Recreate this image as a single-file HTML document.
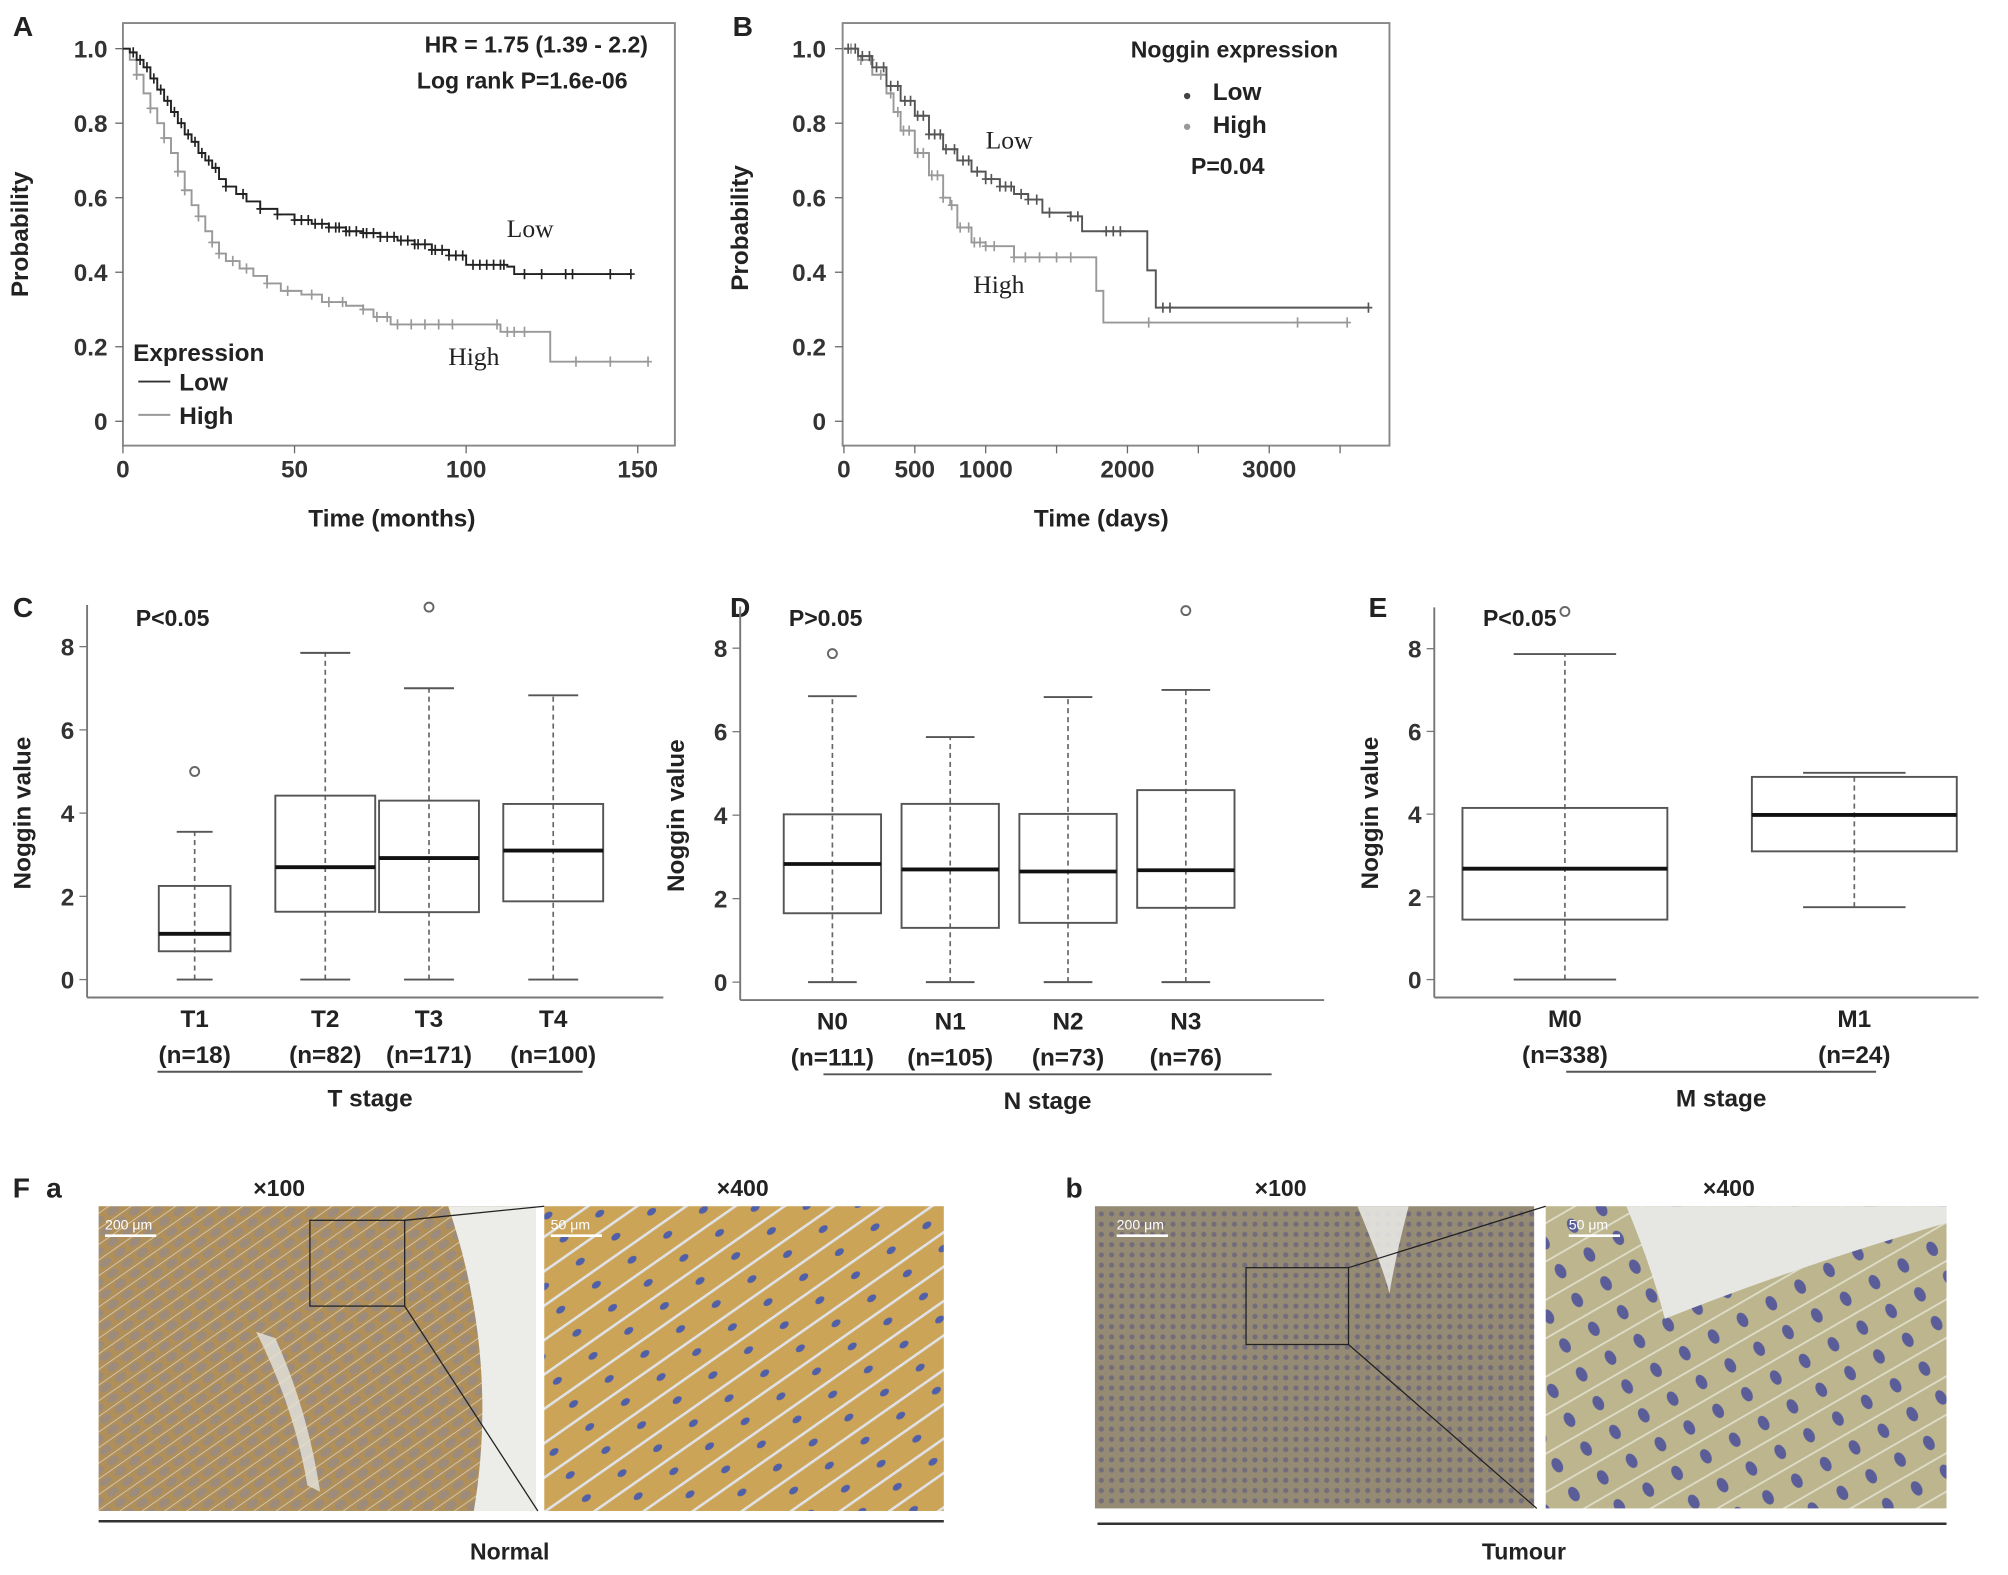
<!DOCTYPE html>
<html><head><meta charset="utf-8">
<style>
html,body{margin:0;padding:0;background:#fff;}
svg{display:block;font-family:"Liberation Sans",Arial,sans-serif;}
</style></head>
<body>
<svg id="fig" width="2008" height="1575" viewBox="0 0 1568 1230" preserveAspectRatio="none" xmlns="http://www.w3.org/2000/svg">
<defs>
<pattern id="patA" width="14" height="10" patternUnits="userSpaceOnUse" patternTransform="rotate(-35)">
<rect width="14" height="10" fill="#b08f58"/><ellipse cx="6" cy="5" rx="5" ry="3" fill="#8a8aa0" opacity="0.5"/><line x1="0" y1="0" x2="14" y2="0" stroke="#d8d4cc" stroke-width="1.2"/></pattern>
<pattern id="patA2" width="34" height="22" patternUnits="userSpaceOnUse" patternTransform="rotate(-35)">
<rect width="34" height="22" fill="#cca458"/><ellipse cx="10" cy="11" rx="4" ry="2.5" fill="#5060a8"/><line x1="0" y1="0" x2="34" y2="0" stroke="#e0e2e6" stroke-width="4"/></pattern>
<pattern id="patB" width="8" height="8" patternUnits="userSpaceOnUse">
<rect width="8" height="8" fill="#958a74"/><circle cx="4" cy="4" r="2" fill="#736c7a"/></pattern>
<pattern id="patB2" width="26" height="26" patternUnits="userSpaceOnUse" patternTransform="rotate(-30)">
<rect width="26" height="26" fill="#bcb58e"/><ellipse cx="13" cy="13" rx="4" ry="6" fill="#5a5d98"/><line x1="0" y1="0" x2="26" y2="0" stroke="#dedcc8" stroke-width="3"/></pattern>
</defs>
<g id="root"></g>
</svg>
<script>
// ---------- Panel A data ----------
const aLowTime = [0,2,4,6,8,10,12,14,16,18,20,22,24,26,28,30,33,36,40,45,50,55,60,65,70,75,80,85,90,95,100,112,114,148];
const aLowSurv = [1,0.99,0.97,0.95,0.92,0.89,0.86,0.83,0.8,0.77,0.75,0.72,0.7,0.68,0.65,0.63,0.61,0.59,0.57,0.555,0.54,0.53,0.52,0.51,0.505,0.495,0.485,0.475,0.46,0.445,0.42,0.415,0.395,0.395];
const aHighTime = [0,2,4,6,8,10,12,14,16,18,20,22,24,26,28,30,34,38,42,46,52,58,65,70,73,78,108,110,124,124.5,153];
const aHighSurv = [1,0.97,0.93,0.88,0.84,0.8,0.76,0.72,0.67,0.62,0.58,0.55,0.51,0.48,0.45,0.43,0.41,0.39,0.37,0.35,0.34,0.32,0.31,0.3,0.28,0.26,0.26,0.24,0.24,0.16,0.16];
const aLowCens = [3,5,7,9,11,13,15,17,19,21,23,25,27,30,35,40,45,50,52,54,56,58,60,62,63,65,66,68,70,71,73,75,77,79,81,83,85,86,88,90,91,93,95,97,99,102,104,106,108,110,111,117,122,129,131,142,148];
const aHighCens = [4,8,12,16,18,22,26,28,32,36,42,48,55,60,64,70,74,77,80,84,88,92,96,109,112,114,117,132,142,153];
const aXTicks = [0,50,100,150];
const aYTicks = [0,0.2,0.4,0.6,0.8,1.0];
// ---------- Panel B data ----------
const bLowTime = [0,100,200,300,400,500,600,700,800,900,1000,1100,1200,1300,1400,1600,1680,2100,2140,2200,3700];
const bLowSurv = [1,0.98,0.95,0.9,0.86,0.82,0.77,0.73,0.7,0.67,0.65,0.63,0.61,0.595,0.56,0.55,0.51,0.51,0.405,0.305,0.305];
const bHighTime = [0,100,200,300,350,400,500,600,700,750,800,900,1000,1200,1750,1780,1830,3550];
const bHighSurv = [1,0.97,0.93,0.88,0.83,0.78,0.72,0.66,0.6,0.58,0.52,0.48,0.47,0.44,0.44,0.35,0.265,0.265];
const bLowCens = [30,80,130,180,230,280,330,380,430,470,520,560,600,640,680,720,780,840,880,940,1000,1040,1100,1140,1180,1250,1300,1360,1450,1600,1650,1850,1900,1950,2250,2300,3700];
const bHighCens = [50,120,190,260,330,380,420,460,520,560,620,660,700,760,820,880,920,960,1000,1060,1200,1280,1380,1500,1600,2150,3200,3550];
const bXTicks = [0,500,1000,2000,3000];
const bMinor = [1500,2500,3500];
const bYTicks = [0,0.2,0.4,0.6,0.8,1.0];
// ---------- Box plot data ----------
const tCats = ["T1","T2","T3","T4"];
const tN = ["(n=18)","(n=82)","(n=171)","(n=100)"];
const tLo = [0,0,0,0], tQ1 = [0.68,1.63,1.62,1.88], tMed = [1.1,2.7,2.92,3.1], tQ3 = [2.25,4.42,4.3,4.22], tHi = [3.55,7.85,7.0,6.83];
const tOut = [[5],[],[8.95],[]];
const nCats = ["N0","N1","N2","N3"];
const nN = ["(n=111)","(n=105)","(n=73)","(n=76)"];
const nLo = [0,0,0,0], nQ1 = [1.65,1.3,1.42,1.78], nMed = [2.83,2.7,2.65,2.68], nQ3 = [4.02,4.27,4.03,4.6], nHi = [6.85,5.87,6.83,7.0];
const nOut = [[7.87],[],[],[8.9]];
const mCats = ["M0","M1"];
const mN = ["(n=338)","(n=24)"];
const mLo = [0,1.75], mQ1 = [1.45,3.1], mMed = [2.68,3.98], mQ3 = [4.15,4.9], mHi = [7.87,5.0];
const mOut = [[8.9],[]];
const boxYTicks = [0,2,4,6,8];

const NS="http://www.w3.org/2000/svg";
const root=document.getElementById('root');
function el(tag,attrs,parent,text){const e=document.createElementNS(NS,tag);for(const k in attrs)e.setAttribute(k,attrs[k]);if(text!==undefined)e.textContent=text;(parent||root).appendChild(e);return e;}
function txt(x,y,s,size,opt,parent){opt=opt||{};const a={x:x,y:y,'font-size':size,fill:opt.fill||'#222','text-anchor':opt.anchor||'middle'};if(opt.bold!==false)a['font-weight']='bold';if(opt.family)a['font-family']=opt.family;if(opt.transform)a.transform=opt.transform;return el('text',a,parent,s);}

function km(g,times,survs,cens,sx,sy,color,width,name){
  let d='M'+sx(times[0])+' '+sy(survs[0]);
  for(let i=1;i<times.length;i++){d+=' H'+sx(times[i])+' V'+sy(survs[i]);}
  const p=el('path',{d:d,fill:'none',stroke:color,'stroke-width':width},g);
  
  
  function survAt(t){let s=survs[0];for(let i=0;i<times.length;i++){if(times[i]<=t)s=survs[i];}return s;}
  cens.forEach(t=>{const x=sx(t),y=sy(survAt(t));
    const c=el('path',{d:`M${x-3} ${y}H${x+3}M${x} ${y-4}V${y+4}`,stroke:color,'stroke-width':1.3},g);
    
    
  });
}

// ---------- Panel A ----------
(function(){
  const g=el('g',{});
  const sx=t=>96+t*(402/150), sy=v=>329-v*291;
  txt(18,28,'A',22,{},g);
  el('rect',{x:96,y:18,width:431,height:330,fill:'none',stroke:'#888','stroke-width':1.5},g);
  aYTicks.forEach(v=>{el('line',{x1:90,x2:96,y1:sy(v),y2:sy(v),stroke:'#666'},g);txt(84,sy(v)+7,v===0?'0':v.toFixed(1),19,{anchor:'end',fill:'#333'},g);});
  aXTicks.forEach(v=>{el('line',{x1:sx(v),x2:sx(v),y1:348,y2:354,stroke:'#666'},g);txt(sx(v),373,String(v),19,{fill:'#333'},g);});
  txt(22,183,'Probability',19,{transform:'rotate(-90 22 183)'},g);
  txt(306,411,'Time (months)',19,{},g);
  km(g,aHighTime,aHighSurv,aHighCens,sx,sy,'#999',1.5,'high-expression');
  km(g,aLowTime,aLowSurv,aLowCens,sx,sy,'#222',1.5,'low-expression');
  txt(506,41,'HR = 1.75 (1.39 - 2.2)',18,{anchor:'end'},g);
  txt(490,69,'Log rank  P=1.6e-06',18,{anchor:'end'},g);
  txt(414,185,'Low',20,{bold:false,family:'"Liberation Serif",serif'},g);
  txt(370,285,'High',20,{bold:false,family:'"Liberation Serif",serif'},g);
  const lg=el('g',{},g);
  txt(104,282,'Expression',19,{anchor:'start'},lg);
  el('line',{x1:108,x2:133,y1:298,y2:298,stroke:'#333','stroke-width':1.5},lg);txt(140,305,'Low',19,{anchor:'start'},lg);
  el('line',{x1:108,x2:133,y1:324,y2:324,stroke:'#999','stroke-width':1.5},lg);txt(140,331,'High',19,{anchor:'start'},lg);
})();

// ---------- Panel B ----------
(function(){
  const g=el('g',{});
  const sx=t=>659+t*0.1107, sy=v=>329-v*291;
  txt(580,28,'B',22,{},g);
  el('rect',{x:658,y:18,width:427,height:330,fill:'none',stroke:'#888','stroke-width':1.5},g);
  bYTicks.forEach(v=>{el('line',{x1:652,x2:658,y1:sy(v),y2:sy(v),stroke:'#666'},g);txt(645,sy(v)+7,v===0?'0':v.toFixed(1),19,{anchor:'end',fill:'#333'},g);});
  bXTicks.concat(bMinor).forEach(v=>{el('line',{x1:sx(v),x2:sx(v),y1:348,y2:354,stroke:'#666'},g);});
  bXTicks.forEach(v=>{txt(sx(v),373,String(v),19,{fill:'#333'},g);});
  txt(584,178,'Probability',19,{transform:'rotate(-90 584 178)'},g);
  txt(860,411,'Time (days)',19,{},g);
  km(g,bHighTime,bHighSurv,bHighCens,sx,sy,'#999',1.5,'high-expression');
  km(g,bLowTime,bLowSurv,bLowCens,sx,sy,'#555',1.5,'low-expression');
  txt(788,116,'Low',20,{bold:false,family:'"Liberation Serif",serif'},g);
  txt(780,229,'High',20,{bold:false,family:'"Liberation Serif",serif'},g);
  const lg=el('g',{},g);
  txt(883,45,'Noggin expression',18,{anchor:'start'},lg);
  el('circle',{cx:927,cy:75,r:2.5,fill:'#444'},lg);txt(947,78,'Low',19,{anchor:'start'},lg);
  el('circle',{cx:927,cy:99,r:2.5,fill:'#999'},lg);txt(947,104,'High',19,{anchor:'start'},lg);
  txt(930,136,'P=0.04',18,{anchor:'start'},lg);
})();

// ---------- Box plots ----------
function boxPanel(o){
  const g=el('g',{});
  const sy=v=>o.y0-v*o.k;
  txt(o.letterX,482,o.letter,22,{},g);
  el('line',{x1:o.ax,x2:o.ax,y1:o.y0-9*o.k,y2:o.y0+14,stroke:'#777','stroke-width':1.5},g);
  el('line',{x1:o.ax,x2:o.axEnd,y1:o.y0+14,y2:o.y0+14,stroke:'#777','stroke-width':1.5},g);
  boxYTicks.forEach(v=>{el('line',{x1:o.ax-6,x2:o.ax,y1:sy(v),y2:sy(v),stroke:'#777'},g);txt(o.ax-10,sy(v)+7,String(v),19,{anchor:'end',fill:'#333'},g);});
  txt(o.ax-44,o.y0-130,'Noggin value',19,{transform:`rotate(-90 ${o.ax-44} ${o.y0-130})`},g);
  txt(o.ax+38,489,o.p,18,{anchor:'start'},g);
  o.cats.forEach((c,i)=>{
    const cx=o.cx[i],hw=o.hw[i];
    const bg=el('g',{},g);
    el('line',{x1:cx,x2:cx,y1:sy(o.lo[i]),y2:sy(o.hi[i]),stroke:'#666','stroke-width':1.3,'stroke-dasharray':'4 3'},bg);
    el('line',{x1:cx-hw*0.5,x2:cx+hw*0.5,y1:sy(o.lo[i]),y2:sy(o.lo[i]),stroke:'#555','stroke-width':1.5},bg);
    el('line',{x1:cx-hw*0.5,x2:cx+hw*0.5,y1:sy(o.hi[i]),y2:sy(o.hi[i]),stroke:'#555','stroke-width':1.5},bg);
    el('rect',{x:cx-hw,y:sy(o.q3[i]),width:2*hw,height:sy(o.q1[i])-sy(o.q3[i]),fill:'none',stroke:'#555','stroke-width':1.5},bg);
    el('line',{x1:cx-hw,x2:cx+hw,y1:sy(o.med[i]),y2:sy(o.med[i]),stroke:'#111','stroke-width':3},bg);
    o.out[i].forEach(v=>{el('circle',{cx:cx,cy:sy(v),r:3.5,fill:'none',stroke:'#666','stroke-width':1.5},bg);});
    txt(cx,o.y0+37,c,19,{},g);
    txt(cx,o.y0+65,o.n[i],19,{},g);
  });
  el('line',{x1:o.lx1,x2:o.lx2,y1:o.y0+72,y2:o.y0+72,stroke:'#555','stroke-width':1.5},g);
  txt((o.lx1+o.lx2)/2,o.y0+99,o.stage,19,{},g);
}
boxPanel({name:'panel-c-t-stage-boxplot',letter:'C',letterX:18,ax:68,axEnd:518,y0:765,k:32.5,p:'P<0.05',cats:tCats,n:tN,lo:tLo,q1:tQ1,med:tMed,q3:tQ3,hi:tHi,out:tOut,cx:[152,254,335,432],hw:[28,39,39,39],lx1:123,lx2:455,stage:'T stage'});
boxPanel({name:'panel-d-n-stage-boxplot',letter:'D',letterX:578,ax:578,axEnd:1034,y0:767,k:32.6,p:'P>0.05',cats:nCats,n:nN,lo:nLo,q1:nQ1,med:nMed,q3:nQ3,hi:nHi,out:nOut,cx:[650,742,834,926],hw:[38,38,38,38],lx1:643,lx2:993,stage:'N stage'});
boxPanel({name:'panel-e-m-stage-boxplot',letter:'E',letterX:1076,ax:1120,axEnd:1545,y0:765,k:32.3,p:'P<0.05',cats:mCats,n:mN,lo:mLo,q1:mQ1,med:mMed,q3:mQ3,hi:mHi,out:mOut,cx:[1222,1448],hw:[80,80],lx1:1223,lx2:1465,stage:'M stage'});

// ---------- Panel F ----------
(function(){
  const g=el('g',{});
  txt(10,935,'F',22,{anchor:'start'},g);txt(36,935,'a',22,{anchor:'start'},g);txt(832,935,'b',22,{anchor:'start'},g);
  txt(218,934,'×100',18,{},g);txt(580,934,'×400',18,{},g);txt(1000,934,'×100',18,{},g);txt(1350,934,'×400',18,{},g);
  const imgs=[['normal-x100-image',77,942,341,238,'url(#patA)'],['normal-x400-image',425,942,312,238,'url(#patA2)'],['tumour-x100-image',855,942,343,236,'url(#patB)'],['tumour-x400-image',1207,942,313,236,'url(#patB2)']];
  imgs.forEach(m=>{const r=el('rect',{x:m[1],y:m[2],width:m[3],height:m[4],fill:m[5]},g);});
  el('path',{d:'M350 942 H418 V1180 H370 Q390 1060 350 942Z',fill:'#ecece8'},g);
  el('path',{d:'M200 1040 Q230 1100 240 1160 L250 1165 Q240 1100 215 1045Z',fill:'#e4e4e0',opacity:0.8},g);
  el('path',{d:'M1060 942 Q1080 990 1085 1010 Q1090 980 1100 942Z',fill:'#e6e6e2',opacity:0.9},g);
  el('path',{d:'M1270 942 H1520 V955 Q1400 990 1300 1030 Q1290 990 1270 942Z',fill:'#e6e6e2'},g);
  el('rect',{x:242,y:953,width:74,height:67,fill:'none',stroke:'#222','stroke-width':1},g);
  el('line',{x1:316,y1:953,x2:425,y2:942,stroke:'#222'},g);el('line',{x1:316,y1:1020,x2:420,y2:1180,stroke:'#222'},g);
  el('rect',{x:973,y:990,width:80,height:60,fill:'none',stroke:'#222','stroke-width':1},g);
  el('line',{x1:1053,y1:990,x2:1207,y2:942,stroke:'#222'},g);el('line',{x1:1053,y1:1050,x2:1200,y2:1178,stroke:'#222'},g);
  [[82,960,'200 μm'],[430,960,'50 μm'],[872,960,'200 μm'],[1225,960,'50 μm']].forEach(s=>{txt(s[0],s[1],s[2],11,{anchor:'start',fill:'#fff',bold:false},g);el('line',{x1:s[0],x2:s[0]+40,y1:s[1]+5,y2:s[1]+5,stroke:'#fff','stroke-width':2},g);});
  el('line',{x1:77,x2:737,y1:1188,y2:1188,stroke:'#333','stroke-width':2},g);
  el('line',{x1:857,x2:1520,y1:1190,y2:1190,stroke:'#333','stroke-width':2},g);
  txt(398,1218,'Normal',18,{},g);txt(1190,1218,'Tumour',18,{},g);
})();
</script>
</body></html>
